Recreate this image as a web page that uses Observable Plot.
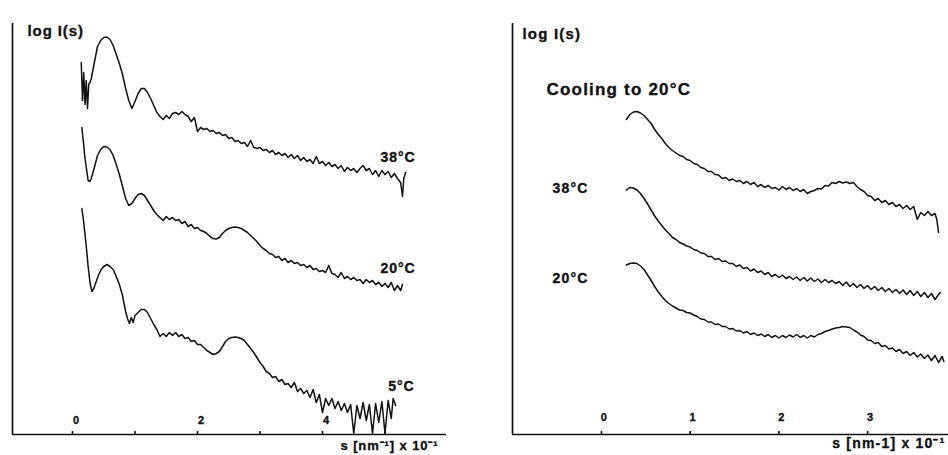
<!DOCTYPE html>
<html><head><meta charset="utf-8">
<script src="https://cdn.jsdelivr.net/npm/d3@7"></script>
<script src="https://cdn.jsdelivr.net/npm/@observablehq/plot@0.6"></script>
<style>
body{margin:0;background:#fff;}
#wrap{display:flex;width:948px;height:455px;overflow:hidden;}
#wrap svg{overflow:visible;display:block;}
</style></head><body><div id="wrap"></div>
<script>
// ---- Data: [s (nm^-1 x 10^-1), log I (arbitrary, vertically offset)] ----
const left38 = [[0.14,37.2],[0.16,33.4],[0.18,36.2],[0.20,33.0],[0.22,35.4],[0.24,32.6],[0.26,35.0],[0.28,35.2],[0.30,35.6],[0.35,37.2],[0.40,38.8],[0.45,39.4],[0.50,39.7],[0.55,39.75],[0.60,39.5],[0.65,38.9],[0.70,38.0],[0.75,37.1],[0.80,36.0],[0.85,34.6],[0.90,33.4],[0.95,32.6],[1.00,33.3],[1.05,34.1],[1.10,34.6],[1.15,34.6],[1.20,34.2],[1.25,33.6],[1.30,32.9],[1.35,32.2],[1.40,31.8],[1.45,31.5],[1.50,31.9],[1.55,31.6],[1.60,32.1],[1.65,32.2],[1.70,32.0],[1.75,32.3],[1.80,32.0],[1.85,31.8],[1.90,31.3],[1.95,31.7],[2.00,30.3],[2.05,30.7],[2.10,30.5],[2.15,30.6],[2.20,30.3],[2.25,30.4],[2.30,30.1],[2.35,30.2],[2.40,29.9],[2.45,30.0],[2.50,29.6],[2.55,29.7],[2.60,29.3],[2.65,29.4],[2.70,29.1],[2.75,29.2],[2.80,28.8],[2.85,29.4],[2.90,28.7],[2.95,28.6],[3.00,28.7],[3.05,28.4],[3.10,28.5],[3.15,28.2],[3.20,28.4],[3.25,28.0],[3.30,28.2],[3.35,27.9],[3.40,28.1],[3.45,27.7],[3.50,28.0],[3.55,27.6],[3.60,27.9],[3.65,27.4],[3.70,27.7],[3.75,27.3],[3.80,27.5],[3.85,27.1],[3.90,27.8],[3.95,27.1],[4.00,27.3],[4.05,26.9],[4.10,27.2],[4.15,26.8],[4.20,27.0],[4.25,26.6],[4.30,26.9],[4.35,26.3],[4.40,26.7],[4.45,26.4],[4.50,26.6],[4.55,26.2],[4.60,26.6],[4.65,26.9],[4.70,26.4],[4.75,26.6],[4.80,26.0],[4.85,26.4],[4.90,25.8],[4.95,26.4],[5.00,26.0],[5.05,26.3],[5.10,25.7],[5.15,26.1],[5.20,25.6],[5.25,25.2],[5.28,23.8],[5.30,25.6],[5.33,26.2]];

const left20 = [[0.15,30.7],[0.18,28.9],[0.20,27.6],[0.25,25.4],[0.28,25.3],[0.30,25.6],[0.35,26.7],[0.40,27.9],[0.45,28.5],[0.50,28.8],[0.55,28.75],[0.60,28.5],[0.65,27.9],[0.70,27.0],[0.75,26.0],[0.80,24.8],[0.85,23.6],[0.90,22.9],[0.95,23.1],[1.00,23.6],[1.05,24.0],[1.10,24.1],[1.15,23.9],[1.20,23.4],[1.25,22.9],[1.30,22.4],[1.35,22.0],[1.40,21.7],[1.45,21.4],[1.50,21.8],[1.55,21.5],[1.60,21.7],[1.65,21.4],[1.70,21.5],[1.75,21.1],[1.80,21.3],[1.85,20.8],[1.90,21.0],[1.95,20.6],[2.00,20.7],[2.05,20.4],[2.10,20.3],[2.15,20.1],[2.20,19.8],[2.25,19.6],[2.30,19.55],[2.35,19.7],[2.40,20.1],[2.45,20.4],[2.50,20.6],[2.55,20.7],[2.60,20.75],[2.65,20.7],[2.70,20.6],[2.75,20.4],[2.80,20.2],[2.85,19.9],[2.90,19.6],[2.95,19.3],[3.00,18.9],[3.05,18.6],[3.10,18.4],[3.15,18.1],[3.20,18.0],[3.25,17.7],[3.30,17.8],[3.35,17.4],[3.40,17.6],[3.45,17.2],[3.50,17.4],[3.55,17.1],[3.60,17.2],[3.65,16.9],[3.70,17.0],[3.75,16.7],[3.80,16.9],[3.85,16.5],[3.90,16.6],[3.95,16.3],[4.00,16.4],[4.05,16.2],[4.10,16.9],[4.15,16.1],[4.20,16.0],[4.25,15.7],[4.30,16.2],[4.35,15.6],[4.40,15.8],[4.45,15.5],[4.50,15.7],[4.55,15.4],[4.60,15.5],[4.65,15.1],[4.70,15.5],[4.75,15.2],[4.80,15.4],[4.85,15.0],[4.90,15.2],[4.95,14.8],[5.00,15.1],[5.05,14.7],[5.10,15.2],[5.15,14.4],[5.20,14.9],[5.25,14.4],[5.28,15.0]];

const left5 = [[0.15,22.6],[0.18,21.2],[0.20,20.0],[0.23,18.2],[0.25,16.8],[0.28,15.2],[0.31,14.3],[0.34,14.6],[0.38,15.3],[0.42,16.0],[0.46,16.5],[0.50,16.8],[0.55,17.0],[0.60,16.8],[0.65,16.5],[0.70,15.8],[0.75,15.0],[0.80,13.9],[0.85,12.3],[0.88,11.6],[0.91,11.1],[0.94,11.7],[0.97,11.2],[1.00,11.9],[1.05,12.2],[1.10,12.5],[1.15,12.5],[1.20,12.2],[1.25,11.6],[1.30,11.0],[1.35,10.5],[1.40,9.8],[1.45,10.1],[1.50,9.8],[1.55,10.2],[1.60,9.9],[1.65,10.2],[1.70,9.8],[1.75,10.0],[1.80,9.6],[1.85,9.7],[1.90,9.3],[1.95,9.4],[2.00,9.0],[2.05,9.0],[2.10,8.7],[2.15,8.4],[2.20,8.2],[2.25,8.0],[2.30,8.1],[2.35,8.3],[2.40,8.8],[2.45,9.3],[2.50,9.6],[2.55,9.7],[2.60,9.75],[2.65,9.7],[2.70,9.6],[2.75,9.4],[2.80,9.0],[2.85,8.6],[2.90,8.2],[2.95,7.7],[3.00,7.2],[3.05,6.8],[3.10,6.3],[3.15,6.1],[3.20,5.7],[3.25,5.8],[3.30,5.3],[3.35,5.5],[3.40,5.0],[3.45,5.1],[3.50,4.7],[3.55,5.2],[3.60,4.3],[3.65,4.6],[3.70,4.1],[3.75,4.4],[3.80,3.7],[3.85,4.5],[3.90,3.2],[3.95,4.0],[4.00,2.2],[4.05,3.6],[4.10,2.9],[4.15,3.6],[4.20,2.6],[4.25,3.3],[4.30,2.4],[4.35,3.1],[4.40,2.2],[4.45,3.0],[4.50,0.1],[4.55,2.9],[4.60,1.6],[4.65,3.2],[4.70,1.4],[4.75,3.0],[4.80,0.1],[4.85,3.1],[4.90,1.2],[4.95,3.3],[5.00,0.1],[5.05,3.4],[5.10,1.6],[5.13,3.6],[5.17,2.9]];

const rightTop = [[0.28,31.5],[0.32,32.0],[0.36,32.25],[0.40,32.3],[0.44,32.15],[0.48,31.9],[0.52,31.5],[0.56,31.1],[0.60,30.5],[0.64,30.0],[0.68,29.6],[0.72,29.1],[0.76,28.7],[0.80,28.4],[0.84,28.15],[0.88,27.9],[0.92,27.8],[0.96,27.5],[1.00,27.4],[1.04,27.1],[1.08,27.0],[1.12,26.7],[1.16,26.6],[1.20,26.3],[1.24,26.3],[1.28,26.0],[1.32,25.95],[1.36,25.6],[1.40,25.7],[1.44,25.4],[1.48,25.55],[1.52,25.3],[1.56,25.4],[1.60,25.1],[1.64,25.3],[1.68,25.0],[1.72,25.2],[1.76,24.8],[1.80,25.0],[1.84,24.7],[1.88,24.9],[1.92,24.6],[1.96,24.7],[2.00,24.45],[2.04,24.8],[2.08,24.5],[2.12,24.7],[2.16,24.4],[2.20,24.6],[2.24,24.3],[2.28,24.5],[2.32,24.1],[2.36,24.3],[2.40,24.4],[2.44,24.6],[2.48,24.55],[2.52,24.9],[2.56,24.85],[2.60,25.2],[2.64,25.1],[2.68,25.3],[2.72,25.15],[2.76,25.25],[2.80,25.1],[2.84,25.2],[2.88,24.8],[2.92,24.5],[2.96,24.3],[3.00,23.9],[3.04,23.8],[3.08,23.4],[3.12,23.6],[3.16,23.2],[3.20,23.4],[3.24,23.0],[3.28,23.2],[3.32,22.8],[3.36,23.0],[3.40,22.6],[3.44,22.9],[3.48,22.5],[3.52,22.8],[3.56,21.5],[3.60,22.2],[3.64,21.9],[3.68,22.3],[3.72,21.9],[3.76,22.1],[3.78,21.5],[3.80,20.2]];

const right38 = [[0.28,24.45],[0.32,24.7],[0.36,24.65],[0.40,24.45],[0.44,24.1],[0.48,23.6],[0.52,23.05],[0.56,22.45],[0.60,21.85],[0.64,21.35],[0.68,20.9],[0.72,20.45],[0.76,20.1],[0.80,19.7],[0.84,19.5],[0.88,19.2],[0.92,19.05],[0.96,18.85],[1.00,18.75],[1.04,18.5],[1.08,18.4],[1.12,18.15],[1.16,18.1],[1.20,17.8],[1.24,17.8],[1.28,17.5],[1.32,17.6],[1.36,17.3],[1.40,17.35],[1.44,17.1],[1.48,17.1],[1.52,16.8],[1.56,16.95],[1.60,16.6],[1.64,16.7],[1.68,16.35],[1.72,16.55],[1.76,16.2],[1.80,16.35],[1.84,16.0],[1.88,16.2],[1.92,15.8],[1.96,16.0],[2.00,15.7],[2.04,15.95],[2.08,15.6],[2.12,15.8],[2.16,15.5],[2.20,15.75],[2.24,15.4],[2.28,15.7],[2.32,15.35],[2.36,15.65],[2.40,15.3],[2.44,15.55],[2.48,15.2],[2.52,15.5],[2.56,15.2],[2.60,15.4],[2.64,15.1],[2.68,15.3],[2.72,14.9],[2.76,15.25],[2.80,14.8],[2.84,15.1],[2.88,14.7],[2.92,15.0],[2.96,14.6],[3.00,14.9],[3.04,14.5],[3.08,14.8],[3.12,14.4],[3.16,14.7],[3.20,14.3],[3.24,14.6],[3.28,14.2],[3.32,14.5],[3.36,14.1],[3.40,14.45],[3.44,14.0],[3.48,14.4],[3.52,13.9],[3.56,14.3],[3.60,13.8],[3.64,14.2],[3.68,13.7],[3.72,14.1],[3.76,13.5],[3.80,14.0],[3.82,14.2]];

const right20 = [[0.28,16.95],[0.32,17.1],[0.36,17.15],[0.40,17.1],[0.44,16.85],[0.48,16.5],[0.52,15.95],[0.56,15.4],[0.60,14.8],[0.64,14.25],[0.68,13.8],[0.72,13.4],[0.76,13.1],[0.80,12.85],[0.84,12.65],[0.88,12.45],[0.92,12.4],[0.96,12.2],[1.00,12.15],[1.04,11.95],[1.08,11.8],[1.12,11.55],[1.16,11.5],[1.20,11.25],[1.24,11.25],[1.28,11.0],[1.32,11.05],[1.36,10.8],[1.40,10.8],[1.44,10.55],[1.48,10.6],[1.52,10.35],[1.56,10.4],[1.60,10.15],[1.64,10.3],[1.68,10.0],[1.72,10.15],[1.76,9.9],[1.80,10.05],[1.84,9.8],[1.88,10.0],[1.92,9.7],[1.96,9.9],[2.00,9.65],[2.04,9.9],[2.08,9.7],[2.12,9.95],[2.16,9.75],[2.20,10.0],[2.24,9.7],[2.28,9.9],[2.32,9.65],[2.36,9.9],[2.40,9.75],[2.44,10.0],[2.48,10.1],[2.52,10.3],[2.56,10.4],[2.60,10.55],[2.64,10.65],[2.68,10.7],[2.72,10.8],[2.76,10.75],[2.80,10.7],[2.84,10.45],[2.88,10.25],[2.92,9.95],[2.96,9.8],[3.00,9.45],[3.04,9.4],[3.08,9.1],[3.12,9.2],[3.16,8.8],[3.20,8.9],[3.24,8.55],[3.28,8.65],[3.32,8.3],[3.36,8.5],[3.40,8.1],[3.44,8.3],[3.48,7.9],[3.52,8.2],[3.56,7.75],[3.60,8.05],[3.64,7.6],[3.68,7.95],[3.72,7.4],[3.76,7.9],[3.80,7.2],[3.84,7.8],[3.86,7.3]];

const leftTickMarks = [0, 1, 2, 3, 4, 5];
const leftTickLabels = [0, 2, 4];
const rightTickMarks = [0, 1, 2, 3];
const rightTickLabels = [0, 1, 2, 3];
const yTitle = "log I(s)";
const leftXTitle = "s [nm\u207B\u00B9] x 10\u207B\u00B9";
const rightXTitle = "s [nm-1] x 10\u207B\u00B9";
const rightHeading = "Cooling to 20°C";
const leftLabels = ["38°C", "20°C", "5°C"];
const rightLabels = ["38°C", "20°C"];

// ---- Drawing ----
const font = '"Liberation Sans", Arial, Helvetica, sans-serif';
const ink = "#111";
const yDomain = [0, 41.1];
const leftXDomain = [-0.96, 5.984];
const rightXDomain = [-1.003, 3.912];
const lineOpts = {stroke: ink, strokeWidth: 1.5, strokeLinejoin: "round"};
const txt = {fill: ink, stroke: ink, strokeWidth: 0.35, fontWeight: "bold"};

const leftPlot = Plot.plot({
  width: 474, height: 455,
  marginLeft: 12, marginRight: 28, marginTop: 23, marginBottom: 21,
  x: {domain: leftXDomain, axis: null},
  y: {domain: yDomain, axis: null},
  style: {fontFamily: font, background: "white", letterSpacing: "0.9px", overflow: "visible"},
  marks: [
    Plot.ruleX([leftXDomain[0]], {stroke: ink, strokeWidth: 1.7}),
    Plot.ruleY([yDomain[0]], {stroke: ink, strokeWidth: 1.7}),
    Plot.ruleX(leftTickMarks, {x: d => d, y1: 0, y2: 0.3, stroke: ink, strokeWidth: 1.6}),
    Plot.text(leftTickLabels, {x: d => d, text: d => String(d), frameAnchor: "bottom", dx: 4, dy: -11, fontSize: 11, ...txt}),
    Plot.line(left38, lineOpts),
    Plot.line(left20, lineOpts),
    Plot.line(left5, lineOpts),
    Plot.text([yTitle], {frameAnchor: "top-left", textAnchor: "start", dx: 15, dy: 2, fontSize: 15, ...txt}),
    Plot.text([leftLabels[0]], {frameAnchor: "top-right", textAnchor: "end", dx: -31, dy: 129, fontSize: 14, ...txt}),
    Plot.text([leftLabels[1]], {frameAnchor: "top-right", textAnchor: "end", dx: -31, dy: 240, fontSize: 14, ...txt}),
    Plot.text([leftLabels[2]], {frameAnchor: "top-right", textAnchor: "end", dx: -32, dy: 358, fontSize: 14, ...txt}),
    Plot.text([leftXTitle], {frameAnchor: "bottom-left", textAnchor: "start", dx: 328, dy: 15, fontSize: 13, ...txt})
  ]
});

const rightPlot = Plot.plot({
  width: 474, height: 455,
  marginLeft: 38, marginRight: 0, marginTop: 23, marginBottom: 21,
  x: {domain: rightXDomain, axis: null},
  y: {domain: yDomain, axis: null},
  style: {fontFamily: font, background: "white", letterSpacing: "1.2px", overflow: "visible"},
  marks: [
    Plot.ruleX([rightXDomain[0]], {stroke: ink, strokeWidth: 1.7}),
    Plot.ruleY([yDomain[0]], {stroke: ink, strokeWidth: 1.7}),
    Plot.ruleX(rightTickMarks, {x: d => d, y1: 0, y2: 0.3, stroke: ink, strokeWidth: 1.6}),
    Plot.text(rightTickLabels, {x: d => d, text: d => String(d), frameAnchor: "bottom", dx: 3, dy: -13.5, fontSize: 11, ...txt}),
    Plot.line(rightTop, lineOpts),
    Plot.line(right38, lineOpts),
    Plot.line(right20, lineOpts),
    Plot.text([yTitle], {frameAnchor: "top-left", textAnchor: "start", dx: 10, dy: 5, fontSize: 15, ...txt}),
    Plot.text([rightHeading], {frameAnchor: "top-left", textAnchor: "start", dx: 34, dy: 59, fontSize: 17, ...txt}),
    Plot.text([rightLabels[0]], {frameAnchor: "top-left", textAnchor: "start", dx: 40, dy: 160, fontSize: 14, ...txt}),
    Plot.text([rightLabels[1]], {frameAnchor: "top-left", textAnchor: "start", dx: 40, dy: 250, fontSize: 14, ...txt}),
    Plot.text([rightXTitle], {frameAnchor: "bottom-right", textAnchor: "end", dx: -3, dy: 13, fontSize: 14, ...txt})
  ]
});

const wrap = document.getElementById("wrap");
wrap.appendChild(leftPlot);
wrap.appendChild(rightPlot);
</script>
</body></html>
